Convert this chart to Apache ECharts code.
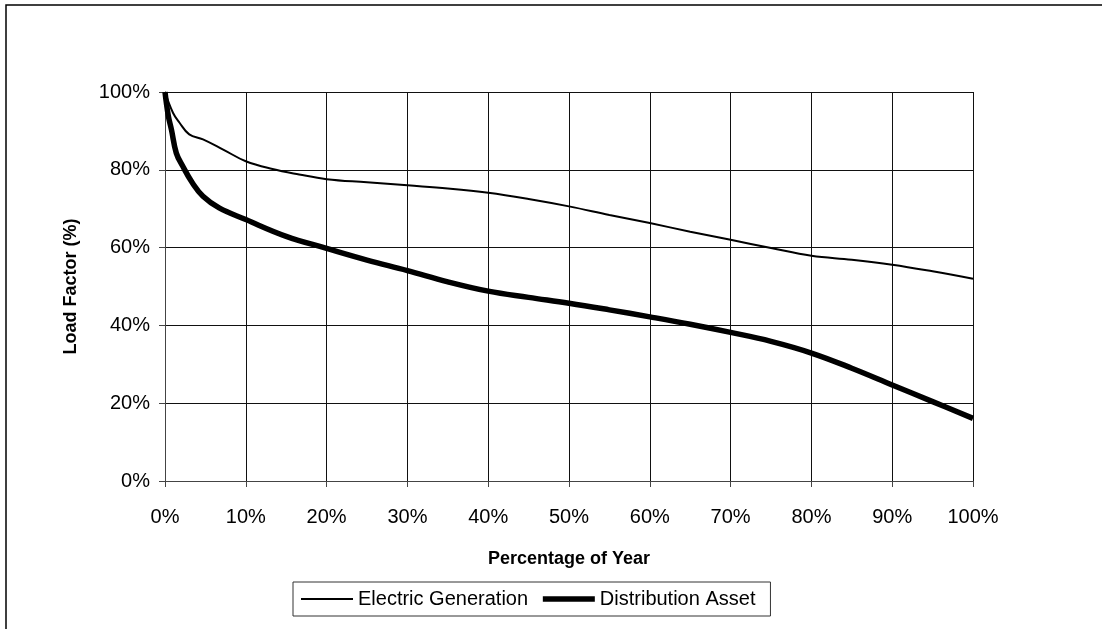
<!DOCTYPE html>
<html>
<head>
<meta charset="utf-8">
<script src="https://cdn.jsdelivr.net/npm/echarts@6/dist/echarts.min.js"></script>
<style>
  html, body { margin: 0; padding: 0; background: #fff; }
  #main { width: 1102px; height: 629px; }
</style>
</head>
<body>
<div id="main"></div>
<script>
// percentage of year (x) / load factor % (y)
const electricGeneration = [
  [0, 100], [1, 94.6], [1.8, 92.1], [3, 89.1], [4.7, 87.8], [7.2, 85.2], [10, 82.2],
  [13.3, 80.2], [16.6, 78.8], [20, 77.6], [25, 76.8], [30, 76.0], [35, 75.2], [40, 74.1],
  [45, 72.5], [50, 70.6], [55, 68.4], [60, 66.3], [65, 64.1], [70, 62.0], [75, 59.9],
  [80, 57.9], [85, 56.9], [90, 55.6], [95, 53.9], [100, 52.0]
]
const distributionAsset = [
  [0, 100], [0.4, 94], [0.8, 90.3], [1.4, 84.3], [2.2, 80.9], [3.4, 76.6], [4.7, 73.2],
  [6.7, 70.2], [10, 67.2], [15, 62.9], [20, 59.8], [25, 56.8], [30, 54.1], [35, 51.2],
  [40, 48.8], [45, 47.2], [50, 45.7], [55, 44.0], [60, 42.2], [65, 40.3], [70, 38.2],
  [75, 35.9], [80, 32.9], [85, 29.0], [90, 24.7], [95, 20.4], [100, 16.1]
]
const seriesNames = ['Electric Generation', 'Distribution Asset']
const lineWidths = [2, 5.5]

const font = "'Liberation Sans', Arial, sans-serif"
const chart = echarts.init(document.getElementById('main'))

chart.setOption({
  animation: false,
  backgroundColor: '#fff',
  textStyle: { fontFamily: font, color: '#000' },
  graphic: [
    {
      type: 'rect',
      shape: { x: 6, y: 5, width: 1300, height: 800 },
      style: { fill: 'none', stroke: '#000', lineWidth: 1.5 },
      silent: true
    }
  ],
  grid: { left: 165, right: 129, top: 92, bottom: 148 },
  legend: {
    left: 293,
    top: 582,
    data: seriesNames.map((name, i) => ({ name, lineStyle: { width: lineWidths[i], color: '#000' } })),
    itemWidth: 52,
    itemHeight: 14,
    itemGap: 12,
    padding: [7, 15, 7, 7],
    borderColor: '#333',
    borderWidth: 1,
    itemStyle: { opacity: 0 },
    textStyle: { fontSize: 20, fontFamily: font, color: '#000' }
  },
  xAxis: {
    type: 'value',
    min: 0,
    max: 100,
    interval: 10,
    name: 'Percentage of Year',
    nameLocation: 'middle',
    nameGap: 69,
    nameTextStyle: { fontSize: 18, fontWeight: 'bold', fontFamily: font, color: '#000' },
    axisLine: { show: true, lineStyle: { color: '#444', width: 1 } },
    axisTick: { show: true, length: 6, lineStyle: { color: '#444' } },
    axisLabel: { fontSize: 20, margin: 26, color: '#000', formatter: v => v + '%' },
    splitLine: { show: true, lineStyle: { color: '#111', width: 1 } }
  },
  yAxis: {
    type: 'value',
    min: 0,
    max: 100,
    interval: 20,
    name: 'Load Factor (%)',
    nameLocation: 'middle',
    nameGap: 85,
    nameTextStyle: { fontSize: 18, fontWeight: 'bold', fontFamily: font, color: '#000' },
    axisLine: { show: true, lineStyle: { color: '#444', width: 1 } },
    axisTick: { show: true, length: 6, lineStyle: { color: '#444' } },
    axisLabel: { fontSize: 20, margin: 15, color: '#000', formatter: v => v + '%' },
    splitLine: { show: true, lineStyle: { color: '#111', width: 1 } }
  },
  series: [
    {
      name: seriesNames[0],
      type: 'line',
      data: electricGeneration,
      smooth: 0.4,
      symbol: 'none',
      lineStyle: { color: '#000', width: lineWidths[0] },
      itemStyle: { color: '#000' }
    },
    {
      name: seriesNames[1],
      type: 'line',
      data: distributionAsset,
      smooth: 0.4,
      symbol: 'none',
      lineStyle: { color: '#000', width: lineWidths[1] },
      itemStyle: { color: '#000' }
    }
  ]
})
</script>
</body>
</html>
